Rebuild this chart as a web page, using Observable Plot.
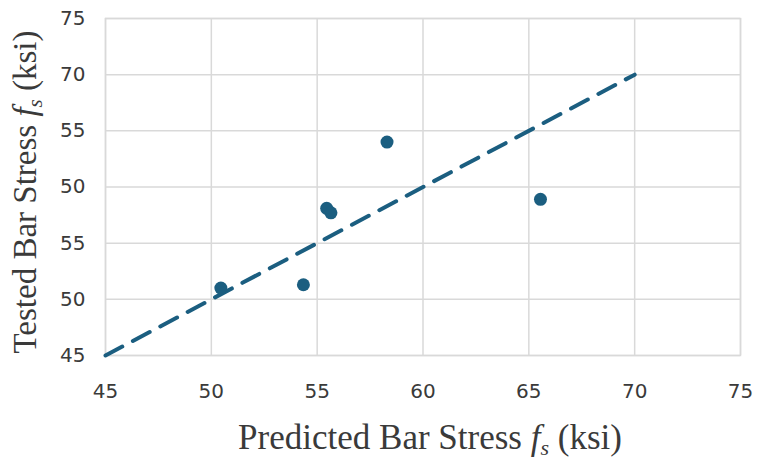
<!DOCTYPE html>
<html><head><meta charset="utf-8">
<script src="https://cdn.jsdelivr.net/npm/d3@7"></script>
<script src="https://cdn.jsdelivr.net/npm/@observablehq/plot@0.6"></script>
<style>body{margin:0;background:#fff}</style>
</head><body><div id="chart"></div>
<script>
const predicted = [50.45, 54.35, 55.45, 55.65, 58.3, 65.55];
const tested    = [51.0, 51.3, 58.1, 57.7, 64.0, 58.9];
const lineX = [45, 70];
const lineY = [45, 70];
const xTicks = [45, 50, 55, 60, 65, 70, 75];
const yTicks = [45, 50, 55, 60, 65, 70, 75];
const yTickLabels = ["45", "50", "55", "50", "55", "70", "75"];

const pts = predicted.map((x, i) => ({x, y: tested[i]}));
const ln = lineX.map((x, i) => ({x, y: lineY[i]}));
const color = "#1b5e80";
const tickFont = "DejaVu Sans";

const plot = Plot.plot({
  width: 757, height: 461,
  marginLeft: 105, marginRight: 17, marginTop: 18, marginBottom: 106,
  style: {background: "#fff"},
  x: {domain: [45, 75], ticks: xTicks},
  y: {domain: [45, 75], ticks: yTicks},
  marks: [
    Plot.gridX(xTicks, {stroke: "#d9d9d9", strokeOpacity: 1, strokeWidth: 1.5}),
    Plot.gridY(yTicks, {stroke: "#d9d9d9", strokeOpacity: 1, strokeWidth: 1.5}),
    Plot.frame({stroke: "#d9d9d9", strokeWidth: 1.5}),
    Plot.axisX(xTicks, {tickSize: 0, tickPadding: 28, label: null, fontSize: 20, fill: "#3a3a3a"}),
    Plot.axisY(yTicks, {tickSize: 0, tickPadding: 20, label: null, fontSize: 20, fill: "#3a3a3a",
      tickFormat: (d) => yTickLabels[yTicks.indexOf(d)]}),
    Plot.line(ln, {x: "x", y: "y", stroke: color, strokeWidth: 4, strokeDasharray: "19,12"}),
    Plot.dot(pts, {x: "x", y: "y", r: 6.5, fill: color, stroke: null})
  ]
});
document.getElementById("chart").append(plot);

const svg = d3.select(plot);
svg.selectAll("text")
  .attr("font-family", tickFont).attr("font-size", 20);
svg.selectAll("g").filter(function() { return this.getAttribute("font-size"); })
  .attr("font-size", 20).attr("font-family", tickFont);
const serif = "'Liberation Serif', 'Times New Roman', serif";
const xt = svg.append("text")
  .attr("x", 430).attr("y", 449)
  .attr("text-anchor", "middle")
  .attr("font-family", serif).attr("font-size", 35).attr("fill", "#3a3a3a");
xt.append("tspan").text("Predicted Bar Stress ");
xt.append("tspan").attr("font-style", "italic").text("f");
xt.append("tspan").attr("font-style", "italic").attr("font-size", 22).attr("dy", 6).text("s");
xt.append("tspan").attr("dy", -6).text(" (ksi)");

const yt = svg.append("text")
  .attr("transform", "translate(36,192) rotate(-90)")
  .attr("text-anchor", "middle")
  .attr("font-family", serif).attr("font-size", 33).attr("fill", "#3a3a3a");
yt.append("tspan").text("Tested Bar Stress ");
yt.append("tspan").attr("font-style", "italic").text("f");
yt.append("tspan").attr("font-style", "italic").attr("font-size", 21).attr("dy", 6).text("s");
yt.append("tspan").attr("dy", -6).text(" (ksi)");
</script>
</body></html>
